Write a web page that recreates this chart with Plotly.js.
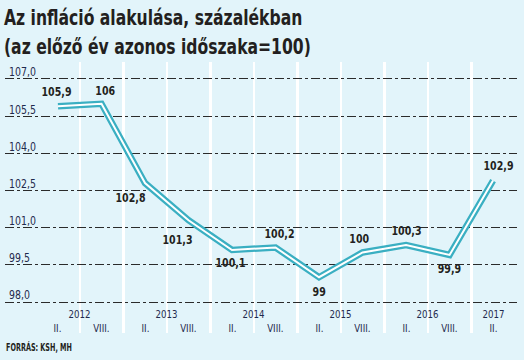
<!DOCTYPE html>
<html>
<head>
<meta charset="utf-8">
<script src="https://cdn.plot.ly/plotly-3.0.1.min.js"></script>
<style>
html,body{margin:0;padding:0;background:#e2f4fa;}
#chart{width:524px;height:360px;}
</style>
</head>
<body>
<div id="chart"></div>
<script>
// ---- data ----
const periods = ['II.','VIII.','II.','VIII.','II.','VIII.','II.','VIII.','II.','VIII.','II.'];
const periodYears = ['2012','2012','2013','2013','2014','2014','2015','2015','2016','2016','2017'];
const values = [105.9, 106, 102.8, 101.3, 100.1, 100.2, 99, 100, 100.3, 99.9, 102.9];
const yTicks = [98.0, 99.5, 101.0, 102.5, 104.0, 105.5, 107.0];
const titleText = 'Az infláció alakulása, százalékban<br>(az előző év azonos időszaka=100)';
const sourceText = 'FORRÁS: KSH, MH';

// label offsets (px) for the value labels
const labelDx = [-1, 3, -15, -11, -2, 4, 0, -4, 0, 0, 5];
const labelDy = [15, 13, -14, -19, -13, 14, -14, 14, 15, -14, 15];

const FONT = '"Liberation Sans Narrow", "DejaVu Sans Condensed", Roboto, "Liberation Sans", sans-serif';
const TEAL = '#3aafc2';
const NAVY = '#1f2a4d';

const idx = values.map((v, i) => i);
const boundaries = idx.slice(0, -1).map(i => i + 0.5);

const years = [...new Set(periodYears)];
const yearPos = years.map(y => {
  const ii = idx.filter(i => periodYears[i] === y);
  return ii.reduce((a, b) => a + b, 0) / ii.length;
});

const traces = [
  {x: idx, y: values, mode: 'lines', line: {color: TEAL, width: 6.5}, hoverinfo: 'skip'},
  {x: idx, y: values, mode: 'lines', line: {color: '#ffffff', width: 2}, hoverinfo: 'skip'}
];

const annotations = [];
values.forEach((v, i) => {
  annotations.push({
    x: i, y: v, xref: 'x', yref: 'y', showarrow: false,
    text: String(v).replace('.', ','), name: 'val',
    xanchor: 'center', yanchor: 'middle',
    xshift: labelDx[i], yshift: labelDy[i],
    font: {family: FONT, size: 13, color: '#231f20', weight: 700}
  });
});
periods.forEach((p, i) => {
  annotations.push({
    x: i, y: 0.018, xref: 'x', yref: 'paper', showarrow: false,
    text: p, name: 'xl',
    xanchor: 'center', yanchor: 'middle',
    font: {family: FONT, size: 11, color: NAVY}
  });
});
years.forEach((y, j) => {
  annotations.push({
    x: yearPos[j], y: 0.07, xref: 'x', yref: 'paper', showarrow: false,
    text: y, name: 'xl',
    xanchor: 'center', yanchor: 'middle',
    font: {family: FONT, size: 11, color: NAVY}
  });
});
annotations.push({
  x: 0, y: -0.052, xref: 'paper', yref: 'paper', showarrow: false,
  text: sourceText, name: 'src', xshift: -1,
  xanchor: 'left', yanchor: 'middle',
  font: {family: FONT, size: 10, color: '#231f20', weight: 700}
});
annotations.push({
  x: 0, y: 1.2177, xref: 'paper', yref: 'paper', showarrow: false,
  text: titleText, name: 'title', align: 'left', xshift: -3,
  xanchor: 'left', yanchor: 'top',
  font: {family: FONT, size: 22, color: '#231f20', weight: 700}
});

const layout = {
  width: 524, height: 360,
  margin: {l: 5, r: 7, t: 62, b: 27},
  paper_bgcolor: '#e2f4fa',
  plot_bgcolor: '#e2f4fa',
  separators: ', ',
  showlegend: false,
  xaxis: {
    type: 'linear', range: [-1.218, 10.55],
    tickvals: boundaries, showticklabels: false, ticks: '',
    showgrid: true, gridcolor: '#ffffff', gridwidth: 2.5,
    zeroline: false, showline: false, fixedrange: true
  },
  yaxis: {
    range: [96.75, 107.685],
    tickvals: yTicks, tickformat: '.1f',
    ticklabelposition: 'inside', ticklabelshift: -7, ticklabelstandoff: 1,
    ticks: '',
    showgrid: true, gridcolor: '#2a2a2a', gridwidth: 1, griddash: 'dashdot',
    zeroline: false, showline: false, fixedrange: true,
    tickfont: {family: FONT, size: 12.5, color: NAVY}
  },
  annotations: annotations
};

// horizontal condensing to mimic the narrow typeface of the original
function condense(el, s, anchor) {
  const b = el.getBBox();
  const ax = anchor === 'left' ? b.x : b.x + b.width / 2;
  const prev = el.getAttribute('transform') || '';
  el.setAttribute('transform', prev + ` translate(${ax},0) scale(${s},1) translate(${-ax},0)`);
}
function widthOf(el) { return el.getBBox().width; }

Plotly.newPlot('chart', traces, layout, {displayModeBar: false, staticPlot: true}).then(gd => {
  const annEls = [...gd.querySelectorAll('.annotation')];
  const byName = name => annEls.filter((g, k) => layout.annotations[+g.getAttribute('data-index')].name === name)
    .map(g => g.querySelector('text.annotation-text'));
  // title
  byName('title').forEach(t => condense(t, 307 / widthOf(t), 'left'));
  byName('src').forEach(t => condense(t, 66 / widthOf(t), 'left'));
  const vals = byName('val');
  if (vals.length) {
    const s = 30 / widthOf(vals[0]);
    vals.forEach(t => condense(t, s, 'center'));
  }
  const xl = byName('xl');
  const yr = xl.find(t => t.textContent === years[0]);
  if (yr) {
    const s = 22 / widthOf(yr);
    xl.forEach(t => condense(t, s, 'center'));
  }
  const yt = [...gd.querySelectorAll('.ytick text')];
  if (yt.length) {
    const top = yt.find(t => t.textContent.startsWith('107')) || yt[0];
    const s = 27 / widthOf(top);
    yt.forEach(t => condense(t, s, 'left'));
  }
});
</script>
</body>
</html>
